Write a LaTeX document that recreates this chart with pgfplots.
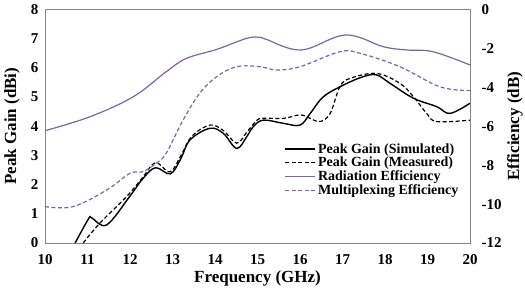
\documentclass[border=0pt]{standalone}
\usepackage{fontspec}
\setmainfont{Liberation Serif}
\usepackage{pgfplots}
\pgfplotsset{compat=1.18}
\definecolor{purp}{RGB}{128,100,162}
\definecolor{frame}{RGB}{134,134,134}
\begin{document}
\begin{tikzpicture}
\pgfplotsset{
  every axis/.append style={
    scale only axis, width=425pt, height=233.5pt,
    xmin=10, xmax=20,
    axis line style={frame, line width=0.8pt},
    major tick length=0pt,
    ticklabel style={font=\fontsize{15}{15}\selectfont\bfseries},
    xticklabel={\bfseries\pgfmathprintnumber{\tick}},
    yticklabel={\bfseries\pgfmathprintnumber{\tick}},
    label style={font=\fontsize{17}{17}\selectfont\bfseries},
    /pgf/number format/assume math mode=true,
  },
}
\begin{axis}[
  ymin=0, ymax=8, ytick={0,1,...,8},
  xtick={10,11,...,20},
  xticklabel style={yshift=-8pt},
  yticklabel style={xshift=-3pt},
  xlabel={Frequency (GHz)},
  ylabel={Peak Gain (dBi)},
  xlabel style={at={(axis description cs:0.5,0)}, anchor=center, yshift=-35pt},
  ylabel style={at={(axis description cs:0,0.5)}, anchor=center, yshift=33pt},
]
\addplot[black, line width=1.4pt, smooth, tension=0.6] coordinates {
(10.71,0) (11.02,0.82) (11.10,0.86) (11.45,0.62) (11.99,1.59) (12.3,2.2) (12.6,2.58) (12.95,2.37)
(13.2,2.9) (13.41,3.53) (13.88,3.93) (14.2,3.75) (14.51,3.24) (14.75,3.65) (14.9,3.99)
(15.14,4.21) (15.61,4.10) (16.0,4.04) (16.24,4.44) (16.55,5.01) (17.02,5.41) (17.49,5.70)
(17.80,5.76) (18.12,5.47) (18.67,4.96) (19.22,4.67) (19.53,4.44) (20,4.79)};
\addplot[black, line width=1.2pt, dash pattern=on 4pt off 2.5pt, smooth, tension=0.6] coordinates {
(10.9,0) (11.29,0.68) (11.92,1.59) (12.3,2.25) (12.6,2.75) (12.94,2.44) (13.2,3.0) (13.45,3.65)
(13.88,4.04) (14.2,3.85) (14.51,3.42) (14.75,3.8) (14.95,4.15) (15.1,4.27) (15.61,4.27)
(16.0,4.39) (16.24,4.27) (16.47,4.16) (16.71,4.44) (16.94,5.36) (17.18,5.64) (17.80,5.81)
(18.35,5.47) (18.67,5.01) (18.98,4.44) (19.22,4.16) (20,4.21)};
\end{axis}
\begin{axis}[
  ymin=-12, ymax=0, ytick={-12,-10,...,0},
  axis y line*=right, axis x line=none,
  yticklabel style={xshift=8pt},
  ylabel={Efficiency (dB)},
  ylabel style={at={(axis description cs:1,0.5)}, anchor=center, yshift=-45pt},
  legend cell align=left,
  legend image code/.code={\draw[#1] (0pt,0pt) -- (30pt,0pt);},
  legend style={draw=none, fill=none, at={(0.985,0.445)}, anchor=north east,
    font=\fontsize{14}{14}\selectfont\bfseries, row sep=-1.5pt,
    nodes={inner xsep=2pt}},
]
\addlegendimage{black, line width=1.4pt}
\addlegendentry{Peak Gain (Simulated)}
\addlegendimage{black, line width=1.2pt, dash pattern=on 4pt off 2.5pt}
\addlegendentry{Peak Gain (Measured)}
\addplot[purp, line width=1.2pt, smooth, tension=0.6] coordinates {
(10,-6.23) (11.06,-5.51) (12.08,-4.48) (12.85,-3.20) (13.33,-2.51) (14.04,-2.05) (14.75,-1.48)
(15.06,-1.43) (15.2,-1.53) (16.03,-2.08) (17.07,-1.31) (17.96,-1.91) (18.51,-2.08) (19.13,-2.17) (20,-2.85)};
\addlegendentry{Radiation Efficiency}
\addplot[purp, line width=1.2pt, dash pattern=on 4pt off 2.5pt, smooth, tension=0.6] coordinates {
(10,-10.13) (10.66,-10.13) (11.45,-9.28) (12.0,-8.42) (12.31,-8.33) (12.62,-7.9) (12.85,-7.39)
(13.25,-5.68) (13.64,-4.31) (14.04,-3.45) (14.51,-2.94) (15.06,-2.94) (15.45,-3.11) (16.0,-2.94)
(16.94,-2.17) (17.41,-2.25) (18.35,-2.94) (19.29,-3.97) (20,-4.17)};
\addlegendentry{Multiplexing Efficiency}
\end{axis}
\pgfresetboundingbox
\path[use as bounding box] ([shift={(-45pt,-50pt)}]current axis.south west) rectangle ([shift={(55pt,9.5pt)}]current axis.north east);
\end{tikzpicture}
\end{document}
